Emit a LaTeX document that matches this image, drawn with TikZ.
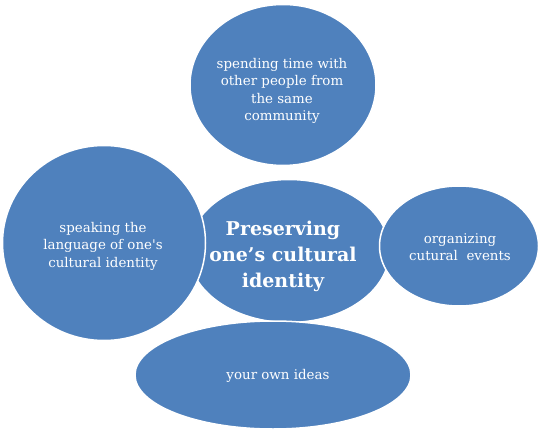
\documentclass[tikz,border=0pt]{standalone}
\usepackage{fontspec}
\setmainfont{DejaVu Serif}
\usetikzlibrary{shapes.geometric}
\definecolor{BubbleBlue}{RGB}{79,129,189}

\begin{document}
\begin{tikzpicture}[x=1pt, y=-1pt,
		bubble/.style={ellipse, fill=BubbleBlue, draw=white, line width=1.5pt, inner sep=0pt},
		txt/.style={text=white, align=center, font=\fontsize{13.4}{17.5}\selectfont},
		title/.style={text=white, align=center, font=\fontsize{19}{26}\selectfont\bfseries}]
		\useasboundingbox (0,0) rectangle (545,435);
		% the bubbles
		\node[bubble, minimum width=186, minimum height=161] (spend) at (283,85) {};
		\node[bubble, minimum width=201, minimum height=143] (core) at (289,251) {};
		\node[bubble, minimum width=203, minimum height=195] (speak) at (104,243) {};
		\node[bubble, minimum width=159, minimum height=120] (events) at (459,246) {};
		\node[bubble, minimum width=276, minimum height=108] (ideas) at (273,375) {};
		% the texts
		\node[txt] (spendtxt) at (282,91) {spending time with\\other people from\\the same\\community};
		\node[title] (coretxt) at (283,256) {Preserving\\one’s cultural\\identity};
		\node[txt] (speaktxt) at (103,246) {speaking the\\language of one\textquotesingle s\\cultural identity};
		\node[txt] (eventstxt) at (460,247) {organizing\\cutural\ \ events};
		\node[txt] (ideastxt) at (278,376) {your own ideas};
	\end{tikzpicture}
\end{document}
